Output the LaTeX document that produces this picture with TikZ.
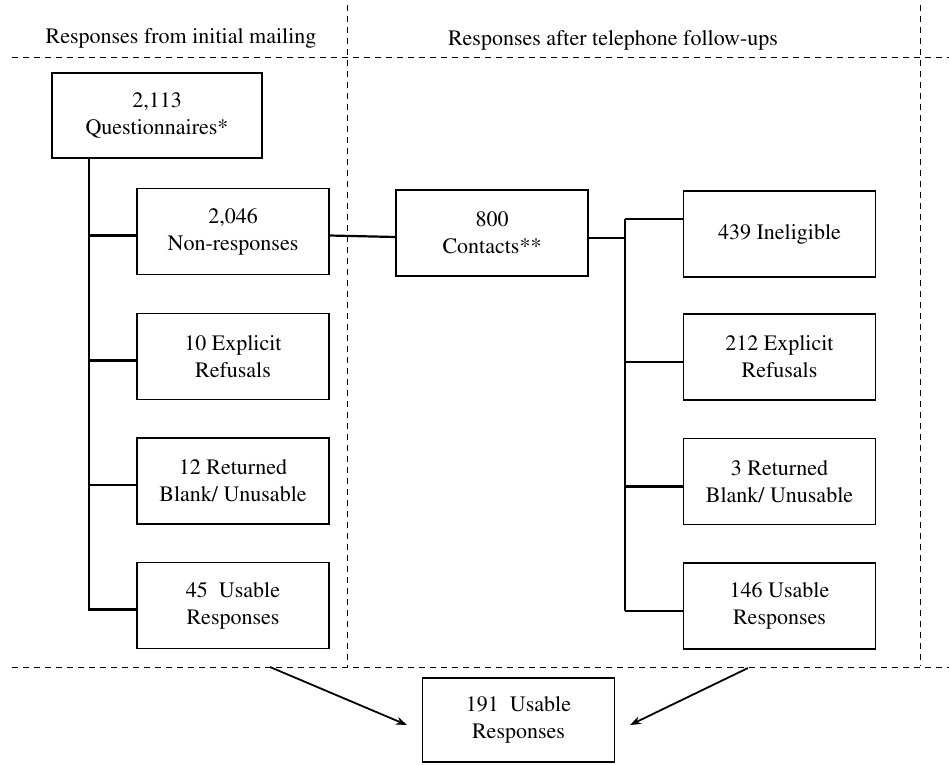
\documentclass[tikz,border=0pt]{standalone}
\usepackage[T1]{fontenc}
\usepackage{mathptmx}
\usetikzlibrary{arrows.meta}
\begin{document}
\begin{tikzpicture}[x=1pt,y=-1pt,
  txt/.style={font=\fontsize{22}{27}\selectfont},
  box/.style={txt, draw, line width=1.1pt, minimum width=192pt,
    minimum height=86pt, align=center, inner sep=2pt},
  link/.style={line width=2.2pt},
  guide/.style={line width=1pt, dash pattern=on 6pt off 5pt},
  flow/.style={line width=1.8pt, -{Stealth[length=11pt,width=8pt]}}]
\useasboundingbox (0,0) rectangle (949,764);

% section dividers
\draw[guide] (12,57) -- (949,57);
\draw[guide] (12,667) -- (949,667);
\draw[guide] (347,5) -- (347,667);
\draw[guide] (920,5) -- (920,666);

% section headings
\node[txt] (h1) at (181,38) {Responses from initial mailing};
\node[txt] (h2) at (613,40) {Responses after telephone follow-ups};

% initial mailing
\node[box, minimum width=210pt, minimum height=85pt] (q) at (157,115.5) {2,113\\Questionnaires*};
\node[box] (nr)  at (233,231.5) {2,046\\Non-responses};
\node[box] (rf1) at (233,356.5) {10 Explicit\\Refusals};
\node[box] (bl1) at (233,481)   {12 Returned\\Blank/ Unusable};
\node[box] (us1) at (233,605.5) {45~ Usable\\Responses};

% telephone follow-ups
\node[box] (ct)  at (492,233)   {800\\Contacts**};
\node[box] (ie)  at (779.5,234) {439 Ineligible};
\node[box] (rf2) at (779.5,357) {212 Explicit\\Refusals};
\node[box] (bl2) at (779.5,481.5) {3 Returned\\Blank/ Unusable};
\node[box] (us2) at (779.5,606) {146 Usable\\Responses};

% combined total
\node[box, minimum height=84pt] (tot) at (518.5,720) {191~ Usable\\Responses};

% tree trunks
\coordinate (lt) at (89,0);
\coordinate (rt) at (625,0);

\draw[link] (q.south -| lt) -- ([yshift=-5pt]us1.west -| lt);
\foreach \b in {nr,rf1,bl1,us1}
  \draw[link] ([yshift=-4pt]\b.west -| lt) -- ([yshift=-4pt]\b.west);

\draw[link] ([yshift=-4pt]nr.east) -- ([yshift=-4pt]ct.west);
\draw[link] ([yshift=-5pt]ct.east) -- ([yshift=-5pt]ct.east -| rt);

\draw[link] ([yshift=15pt]ie.west -| rt) -- ([yshift=-5pt]us2.west -| rt);
\draw[link] ([yshift=15pt]ie.west -| rt) -- ([yshift=15pt]ie.west);
\foreach \b in {rf2,bl2,us2}
  \draw[link] ([yshift=-5pt]\b.west -| rt) -- ([yshift=-5pt]\b.west);

% arrows into the total
\coordinate (la) at (270,667);
\coordinate (ra) at (748,668);
\draw[flow] (la) -- ([xshift=-15pt,yshift=-5pt]tot.west);
\draw[flow] (ra) -- ([xshift=15pt,yshift=-5pt]tot.east);
\end{tikzpicture}
\end{document}
